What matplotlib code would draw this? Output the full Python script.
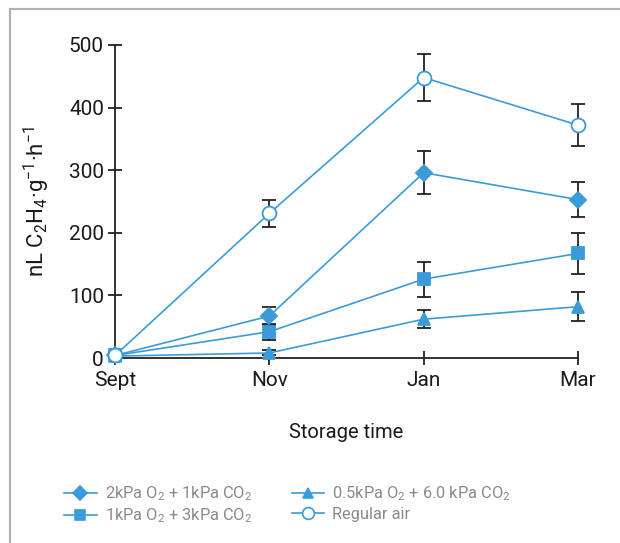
import matplotlib
matplotlib.use("Agg")
import matplotlib.pyplot as plt
from matplotlib.lines import Line2D

plt.rcParams['font.family'] = ['Roboto', 'DejaVu Sans']
plt.rcParams['mathtext.default'] = 'regular'

months = ["Sept", "Nov", "Jan", "Mar"]

s1_label = r"2kPa O$_2$ + 1kPa CO$_2$"
s1_vals = [4, 67, 296, 253]
s1_err = [0, 15, 34, 28]

s2_label = r"1kPa O$_2$ + 3kPa CO$_2$"
s2_vals = [4, 42, 126, 167]
s2_err = [0, 13, 28, 33]

s3_label = r"0.5kPa O$_2$ + 6.0 kPa CO$_2$"
s3_vals = [3, 8, 62, 82]
s3_err = [0, 4, 14, 23]

s4_label = "Regular air"
s4_vals = [4, 231, 448, 372]
s4_err = [0, 22, 37, 33]

blue = '#3a9bd8'
fig = plt.figure(figsize=(6.2, 5.43), dpi=100)
ax = fig.add_axes([115/620, 1-358/543, (578-115)/620, (358-45)/543])

x = list(range(len(months)))
series = [
    (s1_vals, s1_err, s1_label, 'D', 8, blue),
    (s2_vals, s2_err, s2_label, 's', 9, blue),
    (s3_vals, s3_err, s3_label, '^', 9, blue),
    (s4_vals, s4_err, s4_label, 'o', 10, 'white'),
]
handles = []
for vals, err, lab, mk, ms, fc in series:
    ax.errorbar(x, vals, yerr=err, fmt='none', ecolor='#222222', elinewidth=1.3,
                capsize=5, capthick=1.3, zorder=3, clip_on=False)
    ax.plot(x, vals, color=blue, lw=1.2, zorder=2, clip_on=False)
    ax.plot(x, vals, linestyle='none', marker=mk, ms=ms, mfc=fc, mec=blue,
            mew=1.3, zorder=4, clip_on=False)
    handles.append(Line2D([], [], color=blue, lw=1.2, marker=mk, ms=ms*0.85,
                          mfc=fc, mec=blue, mew=1.2, label=lab))

ax.set_xlim(0, 3)
ax.set_ylim(0, 500)
ax.set_xticks(x)
ax.set_xticklabels(months)
ax.set_yticks([0, 100, 200, 300, 400, 500])
for s in ['top', 'right']:
    ax.spines[s].set_visible(False)
for s in ['left', 'bottom']:
    ax.spines[s].set_linewidth(1.3)
    ax.spines[s].set_color('#222222')
ax.tick_params(direction='inout', length=10, width=1.3, color='#222222',
               labelsize=15, labelcolor='#1a1a1a')
ax.tick_params(axis='y', pad=3)
ax.tick_params(axis='x', pad=4)
ax.set_xlabel("Storage time", fontsize=14.5, color='#1a1a1a', labelpad=24)
ax.set_ylabel(r"nL C$_2$H$_4$·g$^{-1}$·h$^{-1}$", fontsize=16, color='#1a1a1a',
              labelpad=12)

leg = fig.legend(handles=handles, ncol=2, loc='upper left',
                 bbox_to_anchor=(49/620, 1-470/543), frameon=False,
                 fontsize=11.8, handlelength=2.0, handletextpad=0.5,
                 columnspacing=2.4, labelspacing=0.2)
for t in leg.get_texts():
    t.set_color('#8a8a8a')

fig.add_artist(Line2D([10/620, 10/620], [0, 1-9/543], color='#b0b0b0', lw=1.5,
                      transform=fig.transFigure))
fig.add_artist(Line2D([10/620, 1], [1-9/543, 1-9/543], color='#b0b0b0', lw=1.5,
                      transform=fig.transFigure))

fig.savefig("out.png", dpi=100)
